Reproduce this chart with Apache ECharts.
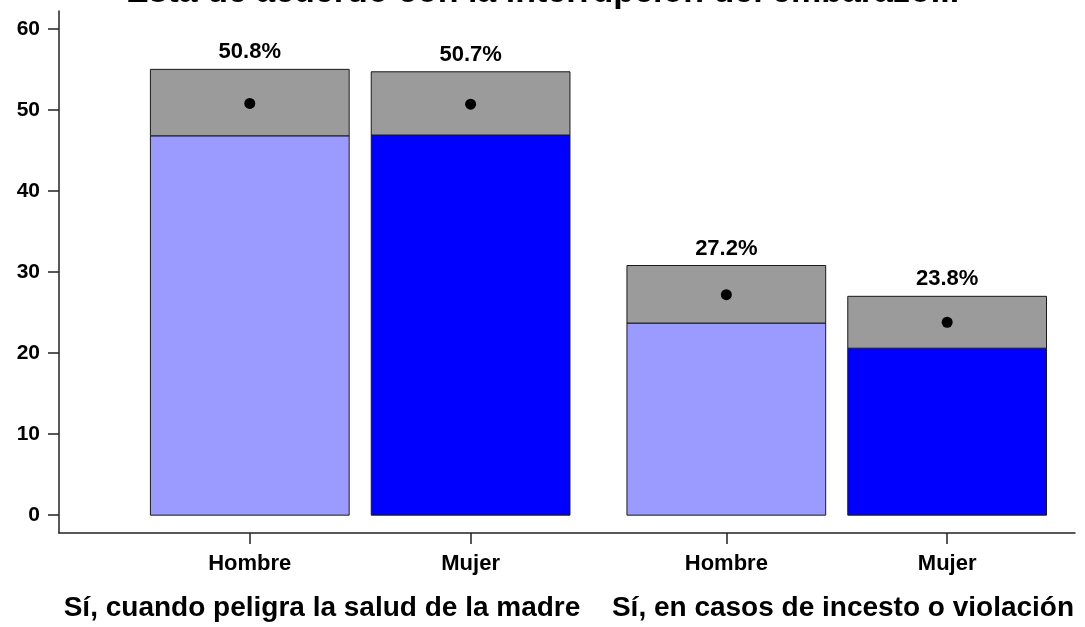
<!DOCTYPE html>
<html>
<head>
<meta charset="utf-8">
<script src="https://cdn.jsdelivr.net/npm/echarts@6/dist/echarts.min.js"></script>
<style>
  html, body { margin: 0; padding: 0; background: #ffffff; }
  #chart { width: 1085px; height: 627px; }
</style>
</head>
<body>
<div id="chart"></div>
<script>
// Support for abortion by circumstance and sex: point estimate with confidence interval
const titleText = 'Está de acuerdo con la interrupción del embarazo...';
const groups = ['Sí, cuando peligra la salud de la madre', 'Sí, en casos de incesto o violación'];
const sexes = ['Hombre', 'Mujer'];
const estimate = [50.8, 50.7, 27.2, 23.8];
const ciLower = [46.8, 46.9, 23.7, 20.6];
const ciUpper = [55.0, 54.7, 30.8, 27.0];
const yTicks = [0, 10, 20, 30, 40, 50, 60];

const FONT = '"Liberation Sans", Arial, Helvetica, sans-serif';
const sexColors = ['#9b9bff', '#0000ff'];
const ciColor = '#9b9b9b';
const edgeColor = '#1a1a1a';

// Bars sit one unit apart inside a group; groups are separated by a wider step
const GROUP_STEP = 2.158;
const BAR_WIDTH = 0.9;
const positions = estimate.map((_, i) => Math.floor(i / sexes.length) * GROUP_STEP + (i % sexes.length));

const data = estimate.map((v, i) => [positions[i], ciLower[i], ciUpper[i], v, i % sexes.length]);

function renderItem(params, api) {
  const x = api.value(0);
  const lo = api.value(1);
  const hi = api.value(2);
  const est = api.value(3);
  const sex = api.value(4);
  const w = api.size([BAR_WIDTH, 0])[0];
  const pBase = api.coord([x, 0]);
  const pLo = api.coord([x, lo]);
  const pHi = api.coord([x, hi]);
  const pEst = api.coord([x, est]);
  const left = pBase[0] - w / 2;
  return {
    type: 'group',
    children: [
      {
        type: 'rect',
        shape: { x: left, y: pLo[1], width: w, height: pBase[1] - pLo[1] },
        style: { fill: sexColors[sex], stroke: edgeColor, lineWidth: 1 }
      },
      {
        type: 'rect',
        shape: { x: left, y: pHi[1], width: w, height: pLo[1] - pHi[1] },
        style: { fill: ciColor, stroke: edgeColor, lineWidth: 1 }
      },
      {
        type: 'circle',
        shape: { cx: pEst[0], cy: pEst[1], r: 5.5 },
        style: { fill: '#000000' }
      },
      {
        type: 'text',
        x: pBase[0],
        y: pHi[1] - 17,
        style: {
          text: est.toFixed(1) + '%',
          fill: '#000000',
          font: 'bold 22px ' + FONT,
          align: 'center',
          verticalAlign: 'middle'
        }
      }
    ]
  };
}

const chart = echarts.init(document.getElementById('chart'), null, { renderer: 'canvas' });

chart.setOption({
  backgroundColor: '#ffffff',
  animation: false,
  title: {
    text: titleText,
    left: 'center',
    top: -29,
    textStyle: { fontFamily: FONT, fontSize: 34, fontWeight: 'bold', color: '#000000' }
  },
  grid: { left: 59, right: 10, top: 11, bottom: 94, containLabel: false },
  xAxis: {
    type: 'value',
    min: -0.864,
    max: 3.737,
    splitLine: { show: false },
    axisLine: { show: true, onZero: false, lineStyle: { color: '#222222', width: 1.5 } },
    axisTick: { show: true, length: 11, customValues: positions, lineStyle: { color: '#222222', width: 1.5 } },
    axisLabel: {
      show: true,
      customValues: positions,
      margin: 20,
      fontFamily: FONT,
      fontSize: 22,
      fontWeight: 'bold',
      color: '#000000',
      formatter: (v) => {
        const i = positions.findIndex(p => Math.abs(p - v) < 1e-6);
        return i >= 0 ? sexes[i % sexes.length] : '';
      }
    }
  },
  yAxis: {
    type: 'value',
    min: -2.2,
    max: 62.2,
    splitLine: { show: false },
    axisLine: { show: true, onZero: false, lineStyle: { color: '#222222', width: 1.5 } },
    axisTick: { show: true, length: 11, customValues: yTicks, lineStyle: { color: '#222222', width: 1.5 } },
    axisLabel: {
      show: true,
      customValues: yTicks,
      margin: 19,
      fontFamily: FONT,
      fontSize: 21,
      fontWeight: 'bold',
      color: '#000000'
    }
  },
  graphic: [
    {
      type: 'text',
      x: 322,
      y: 608,
      style: { text: groups[0], font: 'bold 28px ' + FONT, fill: '#000000', align: 'center', verticalAlign: 'middle' }
    },
    {
      type: 'text',
      x: 843,
      y: 608,
      style: { text: groups[1], font: 'bold 28px ' + FONT, fill: '#000000', align: 'center', verticalAlign: 'middle' }
    }
  ],
  series: [
    {
      type: 'custom',
      renderItem: renderItem,
      data: data,
      clip: false
    }
  ]
});
</script>
</body>
</html>
